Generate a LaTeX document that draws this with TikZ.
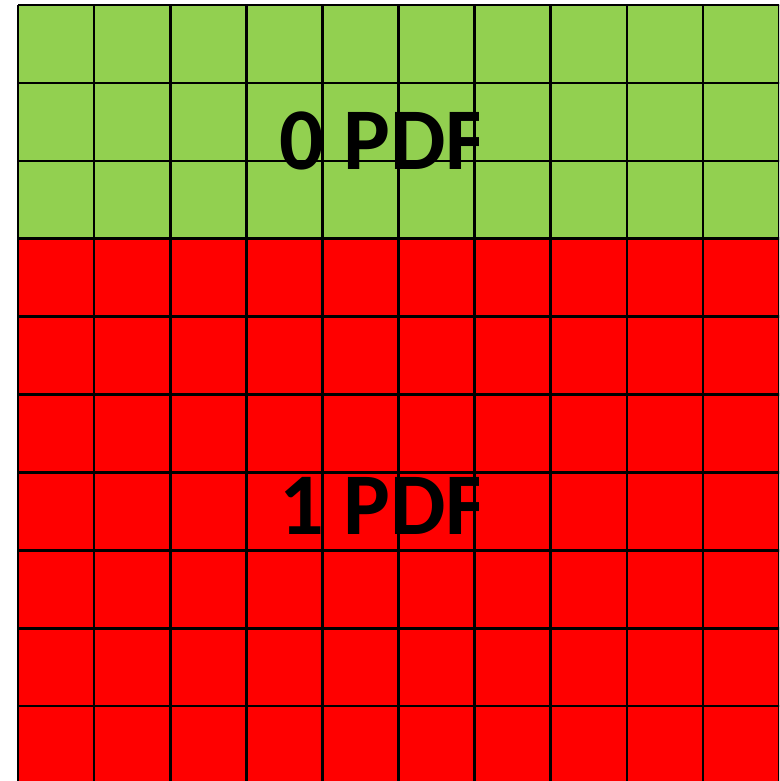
\documentclass[tikz,border=0pt]{standalone}
\usepackage{fontspec}
\newfontfamily\labelfont{Carlito}
\usepackage{tikz}
\usetikzlibrary{positioning}
\definecolor{zeroGreen}{HTML}{92D050}
\definecolor{oneRed}{HTML}{FF0000}

\begin{document}
\begin{tikzpicture}[x=1pt,y=-1pt,
    gridline/.style={black,line width=2.6pt},
    pdflabel/.style={inner sep=0pt,anchor=base west,font=\labelfont\bfseries\fontsize{88}{88}\selectfont}]
    \useasboundingbox (0,0) rectangle (779,781);
    \clip (0,0) rectangle (779,781);
    \fill[zeroGreen] (18,5) rectangle (800,239);
    \fill[oneRed] (18,239) rectangle (800,800);
    \foreach \i in {0,...,10}
      \draw[gridline] ({18+76.1*\i},5) -- ({18+76.1*\i},800);
    \foreach \j in {0,...,10}
      \draw[gridline] (18,{5+77.9*\j}) -- (800,{5+77.9*\j});
    \begin{scope}
      \clip (0,0) rectangle (478,781);
      \node[pdflabel] (zero) at (279,169) {0 PDF};
      \node[pdflabel] (one) at (279,534) {1 PDF};
    \end{scope}
  \end{tikzpicture}
\end{document}
